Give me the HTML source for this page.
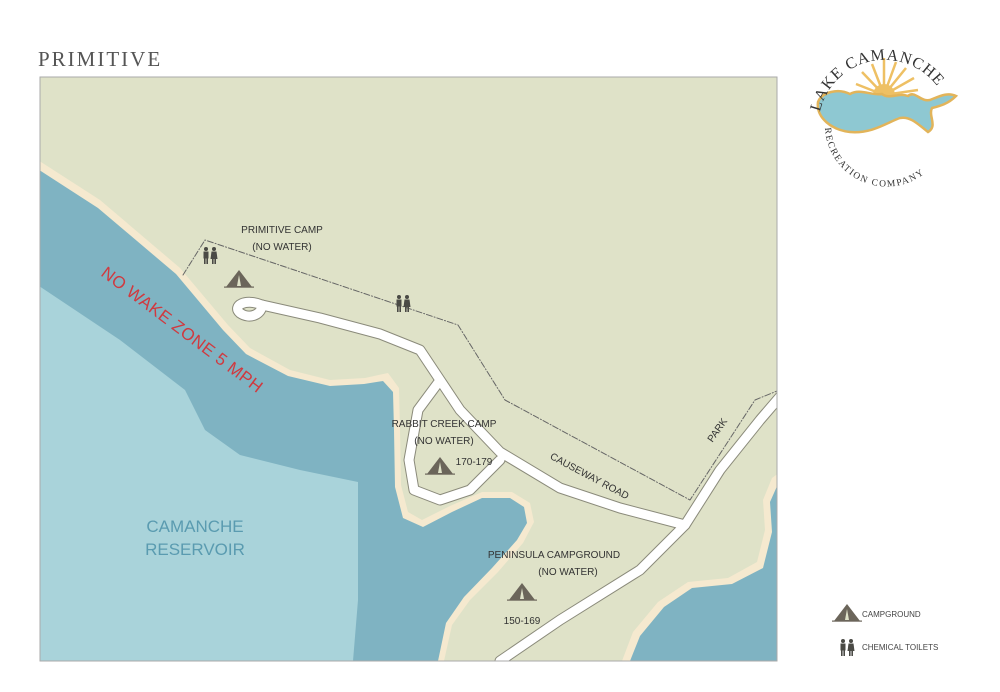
<!DOCTYPE html>
<html><head><meta charset="utf-8"><style>
html,body{margin:0;padding:0;background:#fff;width:1000px;height:692px;overflow:hidden}
svg{display:block}
text{font-family:"Liberation Sans",sans-serif}
text.serif{font-family:"Liberation Serif",serif}
</style></head><body>
<svg width="1000" height="692" viewBox="0 0 1000 692" xmlns="http://www.w3.org/2000/svg">
<defs>
<g id="tent"><path d="M0,0 L-13,17 L13,17 Z" fill="#6b655a"/><path d="M0,5 L-2,16 L2,16 Z" fill="#dfe2c8"/><rect x="-15" y="16.5" width="30" height="1.2" fill="#6b655a"/></g>
<g id="toil" fill="#4a4a45"><circle cx="-4" cy="-7" r="2"/><rect x="-6.5" y="-4.5" width="5" height="7"/><rect x="-6" y="2" width="1.6" height="6"/><rect x="-3.6" y="2" width="1.6" height="6"/><circle cx="4" cy="-7" r="2"/><path d="M1.5,-4.5 H6.5 L7.5,3 H0.5Z"/><rect x="2" y="2" width="1.6" height="6"/><rect x="4.4" y="2" width="1.6" height="6"/></g>
<clipPath id="c"><rect x="40" y="77" width="737" height="584"/></clipPath>
</defs>
<text class="serif" x="38" y="66" font-size="21" letter-spacing="2" fill="#555">PRIMITIVE</text>
<g clip-path="url(#c)">
<rect x="40" y="77" width="737" height="584" fill="#dfe2c8"/>
<path d="M30,155 L100,200 L180,268 L228,325 L250,348 L290,370 L330,380 L365,378 L388,373 L399,388 L400,430 L401,485 L408,512 L422,520 L450,506 L482,492 L512,492 L530,503 L534,522 L523,543 L498,572 L470,600 L452,625 L444,661 L30,661 Z" fill="#f5e9cf"/>
<path d="M30,164 L98,208 L176,274 L223,330 L246,354 L288,376 L330,386 L364,384 L383,381 L393,392 L394,430 L395,487 L403,518 L423,527 L452,512 L482,498 L510,498 L524,507 L527,523 L517,540 L492,568 L464,597 L446,623 L438,661 L30,661 Z" fill="#7fb3c2"/>
<path d="M30,280 L120,340 L185,390 L205,430 L240,455 L300,470 L358,482 L358,600 L353,661 L30,661 Z" fill="#a9d3da"/>
<path d="M790,465 L772,478 L763,500 L765,530 L757,562 L728,578 L688,582 L658,602 L633,632 L622,661 L790,661 Z" fill="#f5e9cf"/>
<path d="M790,472 L778,484 L770,502 L772,532 L763,568 L732,584 L692,588 L664,607 L640,636 L630,661 L790,661 Z" fill="#7fb3c2"/>
<g fill="none" stroke-linecap="round" stroke-linejoin="round">
<g stroke="#8a8a7a" stroke-width="11">
<path d="M790,385 L760,420 L720,470 L685,525 L640,570 L560,620 L500,661"/>
<path d="M685,525 L620,508 L560,488 L500,452 L460,410 L440,380 L420,350 L380,334 L320,318 L262,305"/>
<path d="M438,383 L418,410 L409,460 L414,490 L440,500 L470,490 L500,460"/>
<path d="M262,305 C245,298 232,306 240,313 C250,320 262,314 262,305"/>
</g>
<g stroke="#fff" stroke-width="9">
<path d="M790,385 L760,420 L720,470 L685,525 L640,570 L560,620 L500,661"/>
<path d="M685,525 L620,508 L560,488 L500,452 L460,410 L440,380 L420,350 L380,334 L320,318 L262,305"/>
<path d="M438,383 L418,410 L409,460 L414,490 L440,500 L470,490 L500,460"/>
<path d="M262,305 C245,298 232,306 240,313 C250,320 262,314 262,305"/>
</g>
<path d="M183,275 L205,240 L458,325 L505,400 L690,500 L755,400 L777,391" stroke="#666" stroke-width="1" stroke-dasharray="6,2,1,2"/>
</g>
</g>
<rect x="40" y="77" width="737" height="584" fill="none" stroke="#aaa" stroke-width="1"/>
<text x="100" y="275" font-size="17" fill="#d0393f" transform="rotate(37 100 275)" letter-spacing="0.5">NO WAKE ZONE 5 MPH</text>
<text x="195" y="532" font-size="17" fill="#5a9bb0" text-anchor="middle">CAMANCHE</text>
<text x="195" y="555" font-size="17" fill="#5a9bb0" text-anchor="middle">RESERVOIR</text>
<g font-size="10" fill="#333" text-anchor="middle">
<text x="282" y="233">PRIMITIVE CAMP</text><text x="282" y="250">(NO WATER)</text>
<text x="444" y="427">RABBIT CREEK CAMP</text><text x="444" y="444">(NO WATER)</text>
<text x="474" y="465">170-179</text>
<text x="554" y="558">PENINSULA CAMPGROUND</text><text x="568" y="575">(NO WATER)</text>
<text x="522" y="624">150-169</text>
<text x="588" y="479" transform="rotate(28 588 479)">CAUSEWAY ROAD</text>
<text x="720" y="432" transform="rotate(-55 720 432)">PARK</text>
</g>
<use href="#tent" x="239" y="270"/>
<use href="#tent" x="440" y="457"/>
<use href="#tent" x="522" y="583"/>
<use href="#toil" x="210" y="256"/>
<use href="#toil" x="403" y="304"/>
<use href="#tent" x="847" y="604"/>
<use href="#toil" x="847" y="648"/>
<text x="862" y="617" font-size="8" fill="#444">CAMPGROUND</text>
<text x="862" y="650" font-size="8" fill="#444">CHEMICAL TOILETS</text>
<!-- logo -->
<g>
<g stroke="#eec064" stroke-width="2.5">
<path d="M884,95 L862,72 M884,95 L872,64 M884,95 L884,58 M884,95 L896,62 M884,95 L906,68 M884,95 L914,78 M884,95 L918,90 M884,95 L856,84"/>
</g>
<circle cx="884" cy="95" r="11" fill="#eec064"/>
<path d="M818,102 C822,92 838,88 850,94 C860,88 872,96 882,94 C890,100 898,92 908,96 C915,90 920,102 930,100 C940,96 948,92 956,96 C948,104 940,106 932,108 C928,116 938,126 928,132 C918,124 910,116 900,118 C888,122 872,134 850,132 C832,130 816,118 818,102Z" fill="#8ec8d2" stroke="#e2b45a" stroke-width="2.5"/>
<path id="arc1" d="M820,112 A66,66 0 0 1 948,108" fill="none"/>
<text class="serif" font-size="16" fill="#333" letter-spacing="1"><textPath href="#arc1">LAKE CAMANCHE</textPath></text>
<path id="arc2" d="M825,128 A60,60 0 0 0 948,122" fill="none"/>
<text class="serif" font-size="9.5" fill="#333" letter-spacing="1.5"><textPath href="#arc2">RECREATION COMPANY</textPath></text>
</g>
</svg>
</body></html>
